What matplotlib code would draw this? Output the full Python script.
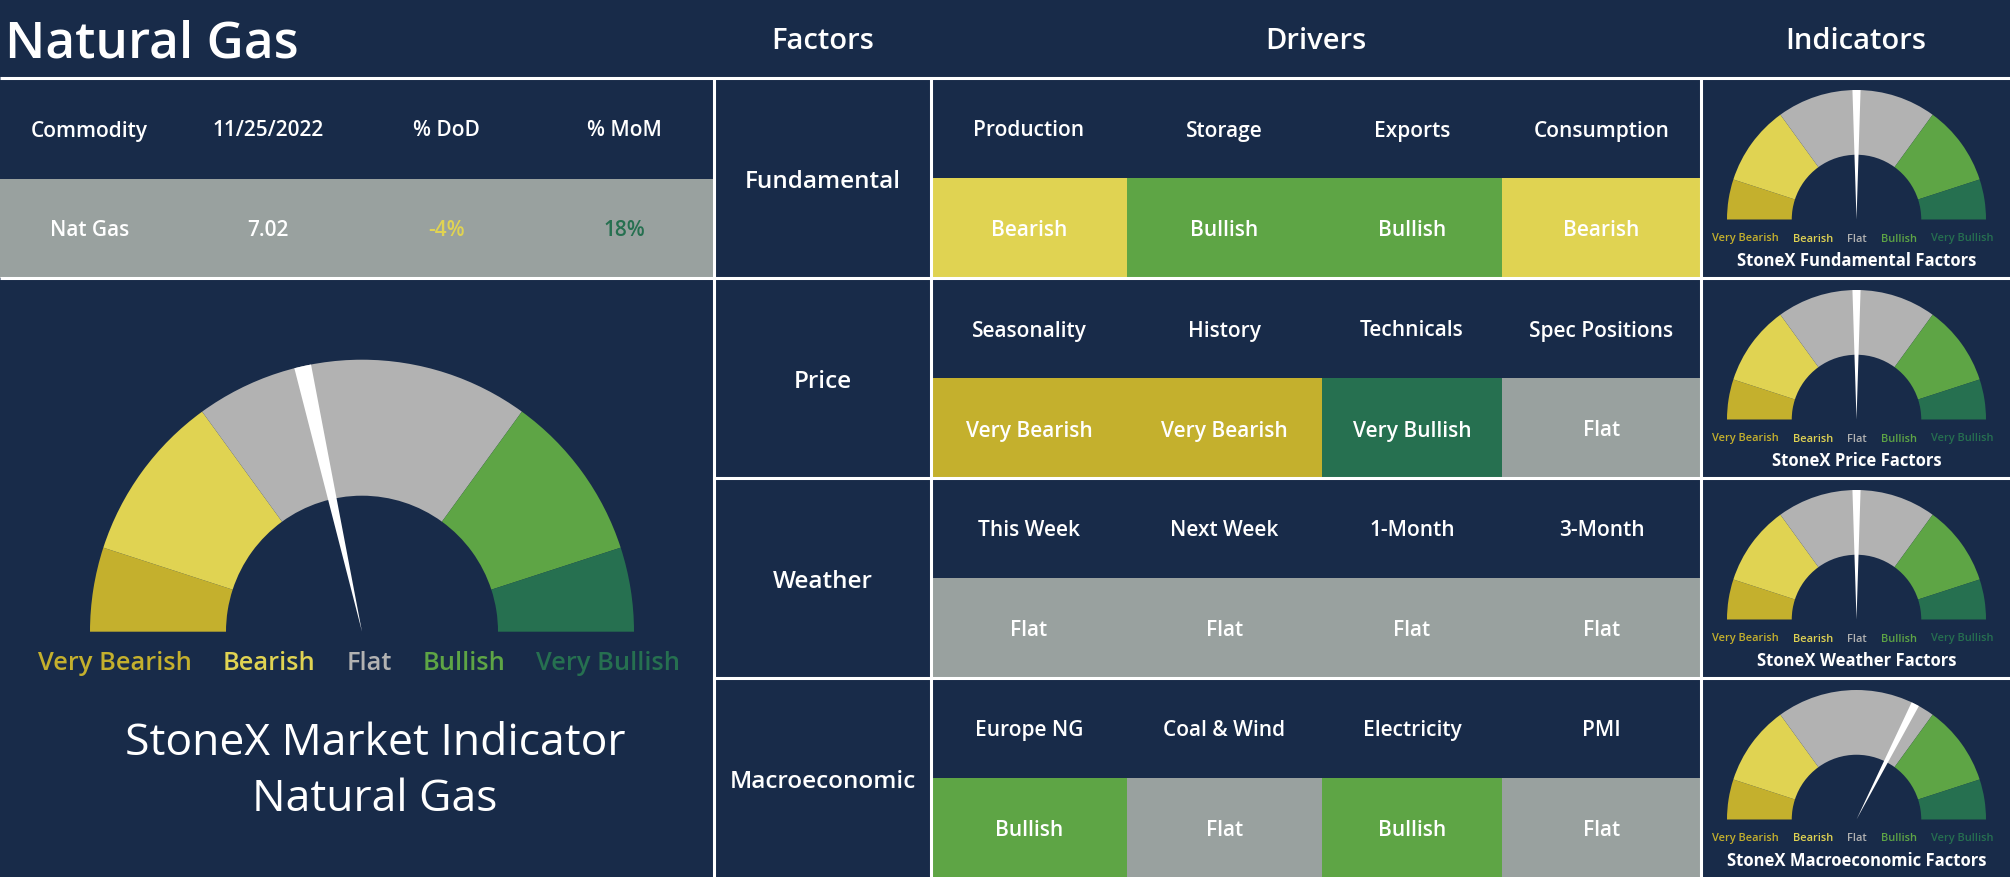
import matplotlib
matplotlib.use("Agg")
import matplotlib.pyplot as plt
from matplotlib.patches import Rectangle, Wedge

plt.rcParams['font.family'] = ['Open Sans', 'DejaVu Sans']

# ---------------- data ----------------
title = "Natural Gas"
table_headers = ["Commodity", "11/25/2022", "% DoD", "% MoM"]
table_values = ["Nat Gas", "7.02", "-4%", "18%"]
table_value_tones = [None, None, "Bearish", "Very Bullish"]

column_titles = ["Factors", "Drivers", "Indicators"]
factors = ["Fundamental", "Price", "Weather", "Macroeconomic"]
drivers = [
    ["Production", "Storage", "Exports", "Consumption"],
    ["Seasonality", "History", "Technicals", "Spec Positions"],
    ["This Week", "Next Week", "1-Month", "3-Month"],
    ["Europe NG", "Coal & Wind", "Electricity", "PMI"],
]
signals = [
    ["Bearish", "Bullish", "Bullish", "Bearish"],
    ["Very Bearish", "Very Bearish", "Very Bullish", "Flat"],
    ["Flat", "Flat", "Flat", "Flat"],
    ["Bullish", "Flat", "Bullish", "Flat"],
]
levels = ["Very Bearish", "Bearish", "Flat", "Bullish", "Very Bullish"]
level_spans = [1, 2, 4, 2, 1]
# needle position: -1 = very bearish end, 0 = flat, +1 = very bullish end
factor_needles = [0.0, 0.0, 0.0, 0.30]
overall_needle = -0.14
indicator_titles = ["StoneX Fundamental Factors", "StoneX Price Factors",
                    "StoneX Weather Factors", "StoneX Macroeconomic Factors"]
panel_lines = ["StoneX Market Indicator", "Natural Gas"]

# ---------------- style ----------------
W, H, DPI = 2010, 878, 100
NAVY = "#182b49"
WHITE = "#ffffff"
gauge_colors = {"Very Bearish": "#c4b02d", "Bearish": "#e0d352", "Flat": "#b2b2b2",
                "Bullish": "#5ea545", "Very Bullish": "#267050"}
cell_colors = dict(gauge_colors)
cell_colors["Flat"] = "#99a19f"
label_colors = dict(gauge_colors)

fig = plt.figure(figsize=(W / DPI, H / DPI), dpi=DPI, facecolor=NAVY)
ax = fig.add_axes([0, 0, 1, 1])
ax.set_xlim(0, W)
ax.set_ylim(0, H)
ax.axis('off')
ax.set_facecolor(NAVY)


def Y(y):
    return H - y


def rect(x0, y0, x1, y1, color):
    ax.add_patch(Rectangle((x0, Y(y1)), x1 - x0, y1 - y0, fc=color, ec='none', zorder=1))


def hline(y, x0, x1):
    ax.plot([x0, x1], [Y(y), Y(y)], color=WHITE, lw=2.2, zorder=5, solid_capstyle='butt')


def vline(x, y0, y1):
    ax.plot([x, x], [Y(y0), Y(y1)], color=WHITE, lw=2.2, zorder=5, solid_capstyle='butt')


renderer = fig.canvas.get_renderer()


def label_row(cx, base_y, fs, gap):
    texts = [ax.text(0, Y(base_y), lv, fontsize=fs, color=label_colors[lv], ha='left',
                     va='baseline', fontweight='semibold', zorder=6) for lv in levels]
    widths = [t.get_window_extent(renderer).width for t in texts]
    total = sum(widths) + gap * (len(texts) - 1)
    x = cx - total / 2
    for t, w in zip(texts, widths):
        t.set_x(x)
        x += w + gap


def gauge(cx, cy, r, needle):
    total = sum(level_spans)
    theta = 180.0
    for lv, s in zip(levels, level_spans):
        t2 = theta - 180.0 * s / total
        ax.add_patch(Wedge((cx, Y(cy)), r, t2, theta, width=r * 0.5,
                           fc=gauge_colors[lv], ec='none', zorder=2))
        theta = t2
    ang = 90 - needle * 90
    ax.add_patch(Wedge((cx, Y(cy)), r, ang - 1.8, ang + 1.8, fc=WHITE, ec='none', zorder=3))


# ---------------- title row ----------------
ax.text(5, Y(57), title, fontsize=37, color=WHITE, ha='left', va='baseline', fontweight='semibold')
col_title_x = [823, 1316, 1856]
for t, x in zip(column_titles, col_title_x):
    ax.text(x, Y(49), t, fontsize=21, color=WHITE, ha='center', va='baseline', fontweight='semibold')

# ---------------- left panel table ----------------
LEFT_W = 714
rect(0, 180, LEFT_W, 279, cell_colors["Flat"])
colw = LEFT_W / len(table_headers)
for i, (hd, val, tone) in enumerate(zip(table_headers, table_values, table_value_tones)):
    cx = colw * (i + 0.5)
    ax.text(cx, Y(136.5), hd, fontsize=15, color=WHITE, ha='center', va='baseline', fontweight='semibold')
    c = WHITE if tone is None else gauge_colors[tone]
    ax.text(cx, Y(236.5), val, fontsize=15, color=c, ha='center', va='baseline', fontweight='semibold')

# ---------------- overall gauge ----------------
gauge(362, 632.7, 272, overall_needle)
label_row(359, 670.5, 18.3, 31)
ax.text(375, Y(755), panel_lines[0], fontsize=32, color=WHITE, ha='center', va='baseline', fontweight='normal')
ax.text(375, Y(811.5), panel_lines[1], fontsize=32, color=WHITE, ha='center', va='baseline', fontweight='normal')

# ---------------- factor grid ----------------
row_tops = [79, 279, 479, 679]
ROW_H = 200
FX0, FX1 = 714, 931
col_edges = [931, 1127, 1322, 1502, 1701]
IX0, IX1 = 1701, W
for k, top in enumerate(row_tops):
    mid = top + ROW_H / 2
    ax.text((FX0 + FX1) / 2, Y(top + 109.5), factors[k], fontsize=17.5, color=WHITE,
            ha='center', va='baseline', fontweight='semibold')
    for j in range(4):
        x0, x1 = col_edges[j], col_edges[j + 1]
        rect(x0, mid, x1, top + ROW_H, cell_colors[signals[k][j]])
        cx = (x0 + x1) / 2
        ax.text(cx, Y(top + 57.5), drivers[k][j], fontsize=15, color=WHITE, ha='center',
                va='baseline', fontweight='semibold', zorder=6)
        ax.text(cx, Y(top + 157.5), signals[k][j], fontsize=15, color=WHITE, ha='center',
                va='baseline', fontweight='semibold', zorder=6)
    gcx = 1856.5
    gauge(gcx, top + 141.5, 129.5, factor_needles[k])
    label_row(1852.5, top + 162.5, 7.9, 14)
    ax.text(gcx, Y(top + 187.5), indicator_titles[k], fontsize=12, color=WHITE, ha='center',
            va='baseline', fontweight='bold')

# ---------------- grid lines ----------------
hline(79, 0, W)
hline(279, 0, W)
hline(479, FX0, W)
hline(679, FX0, W)
vline(LEFT_W, 79, H)
vline(FX1, 79, H)
vline(IX0, 79, H)

fig.savefig("out.png", dpi=DPI, facecolor=NAVY)
